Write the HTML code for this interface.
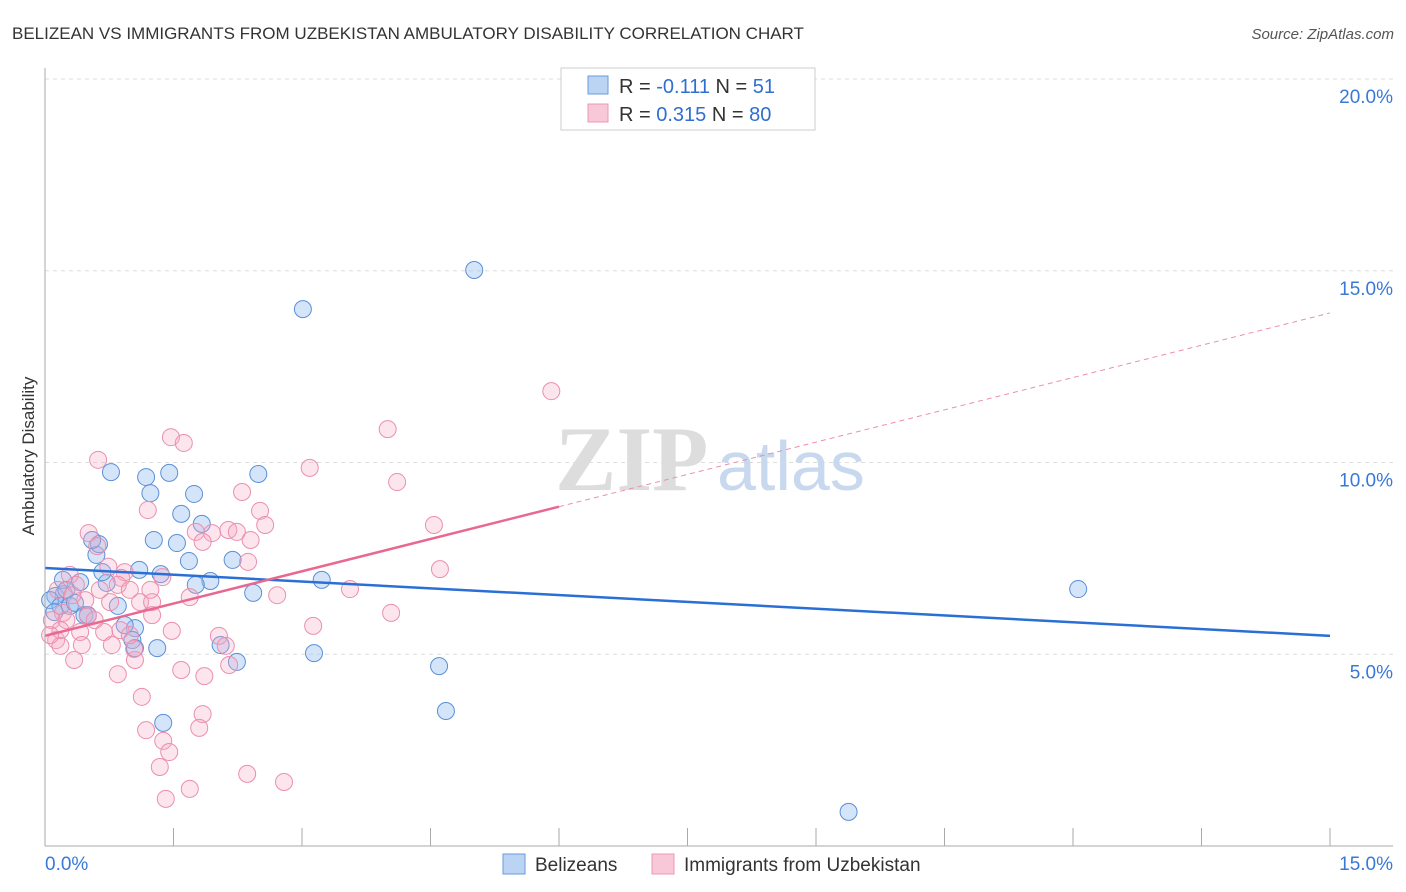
<!DOCTYPE html>
<html><head><meta charset="utf-8"><style>
body{margin:0;background:#fff;font-family:"Liberation Sans",sans-serif;}
svg{display:block}
</style></head><body>
<svg id="chart" width="1406" height="892">
<text x="12" y="39" font-size="17" fill="#333">BELIZEAN VS IMMIGRANTS FROM UZBEKISTAN AMBULATORY DISABILITY CORRELATION CHART</text>
<text x="1394" y="39" font-size="15" fill="#555" font-style="italic" text-anchor="end">Source: ZipAtlas.com</text>
<text x="0" y="0" transform="translate(34,456) rotate(-90)" font-size="17" fill="#333" text-anchor="middle">Ambulatory Disability</text>
<g id="grid"></g>
<g><text x="555" y="490" font-size="92" font-family="Liberation Serif,serif" fill="#ddd" font-weight="bold">ZIP</text><text x="717" y="490" font-size="70" fill="#c8d8ee">atlas</text></g>
<g id="pts"></g>
<g id="lines"></g>
<g id="axes"></g>
<g>
<rect x="561" y="68" width="254" height="62" fill="#fff" stroke="#ccc"/>
<rect x="588" y="76" width="20" height="18" fill="#bcd4f4" stroke="#6a9ae0"/>
<rect x="588" y="104" width="20" height="18" fill="#f9c8d8" stroke="#ec98b4"/>
<text x="619" y="93" font-size="20" fill="#333">R = <tspan fill="#2f6fd0">-0.111</tspan>   N = <tspan fill="#2f6fd0"> 51</tspan></text>
<text x="619" y="121" font-size="20" fill="#333">R = <tspan fill="#2f6fd0">0.315</tspan>   N = <tspan fill="#2f6fd0">80</tspan></text>
</g>
<g>
<rect x="503" y="854" width="22" height="20" fill="#bcd4f4" stroke="#6a9ae0"/>
<text x="535" y="871" font-size="19" fill="#333">Belizeans</text>
<rect x="652" y="854" width="22" height="20" fill="#f9c8d8" stroke="#ec98b4"/>
<text x="684" y="871" font-size="19" fill="#333">Immigrants from Uzbekistan</text>
</g>
</svg>
<script>
const yTicks=[5,10,15,20];
const yTickLabels=["5.0%","10.0%","15.0%","20.0%"];
const xTickLabels=["0.0%","15.0%"];
const blueX=[5.01,3.01,12.06,9.38,4.60,4.68,3.14,2.24,2.05,1.38,0.77,1.18,1.45,1.23,1.74,1.59,2.49,1.83,1.27,1.54,2.19,1.68,0.60,0.63,0.55,1.10,1.35,1.93,1.76,3.23,2.43,1.05,1.02,1.05,1.31,0.93,0.85,0.72,0.67,0.41,0.22,0.12,0.06,0.18,0.29,0.35,0.46,0.11,0.50,0.21,0.25];
const blueY=[15.02,14.00,6.70,0.89,4.69,3.52,5.03,4.80,5.24,3.21,9.75,9.62,9.73,9.20,9.18,8.66,9.70,8.40,7.98,7.90,7.46,7.43,7.59,7.87,7.98,7.20,7.09,6.91,6.81,6.94,6.60,5.68,5.37,5.16,5.16,5.76,6.26,6.86,7.14,6.88,6.57,6.52,6.41,6.26,6.26,6.34,6.02,6.10,6.02,6.94,6.68];
const pinkX=[5.91,1.47,1.62,0.62,3.09,4.00,4.11,2.30,1.20,2.51,4.54,2.57,2.14,2.24,1.95,1.76,2.40,0.51,0.61,1.84,2.37,0.74,0.93,0.89,1.37,4.61,3.56,1.69,2.71,1.11,1.25,1.25,0.76,0.50,0.21,0.08,0.88,1.48,4.04,3.13,2.03,2.11,0.69,0.41,0.13,0.18,0.34,1.05,1.04,2.15,1.86,1.59,0.85,1.13,1.18,1.84,1.80,1.38,1.45,1.34,1.41,2.36,2.79,1.69,0.29,0.15,0.36,0.47,0.64,0.85,0.99,0.25,0.58,0.99,0.18,0.06,0.32,0.78,0.43,1.23];
const pinkY=[11.86,10.66,10.51,10.07,9.86,10.87,9.49,9.23,8.76,8.74,8.37,8.37,8.24,8.19,8.16,8.19,7.98,8.16,7.82,7.93,7.41,7.28,7.14,6.99,7.01,7.22,6.70,6.49,6.54,6.36,6.36,6.02,6.36,6.00,6.08,5.89,5.63,5.61,6.08,5.74,5.48,5.22,5.58,5.58,5.37,5.22,4.85,4.85,5.14,4.72,4.43,4.59,4.48,3.89,3.02,3.44,3.08,2.74,2.45,2.06,1.23,1.88,1.67,1.49,7.07,6.68,6.81,6.41,6.68,6.81,6.68,5.89,5.89,5.50,5.63,5.50,6.54,5.24,5.24,6.68];
const blueTrend=[7.25,5.48];
const pinkTrend=[5.48,13.9];
const pinkSolidEnd=6.0;
const NS="http://www.w3.org/2000/svg";
const sx=v=>45+v*85.67, sy=v=>846-v*38.35;
function mk(tag,attrs,parent){const e=document.createElementNS(NS,tag);for(const k in attrs)e.setAttribute(k,attrs[k]);parent.appendChild(e);return e;}
const grid=document.getElementById('grid'),axes=document.getElementById('axes'),pts=document.getElementById('pts'),lines=document.getElementById('lines');
yTicks.forEach((t,i)=>{
 const l=mk('line',{x1:45,x2:1393,y1:sy(t),y2:sy(t),stroke:'#ddd','stroke-dasharray':'4,4'},grid);
 
 
 const tx=mk('text',{x:1393,y:sy(t)+24,'font-size':19,fill:'#3a78d8','text-anchor':'end'},axes);
 tx.textContent=yTickLabels[i];
 
 
});
mk('line',{x1:45,x2:45,y1:68,y2:846,stroke:'#aaa'},axes);
mk('line',{x1:45,x2:1393,y1:846,y2:846,stroke:'#aaa'},axes);
for(let k=1;k<=10;k++){const t=mk('line',{x1:45+k*128.5,x2:45+k*128.5,y1:828,y2:846,stroke:'#aaa'},axes);
 
 }
[[45,'start'],[1393,'end']].forEach((p,i)=>{const t=mk('text',{x:p[0],y:870,'font-size':19,fill:'#3a78d8','text-anchor':p[1]},axes);t.textContent=xTickLabels[i];
 
 });
blueX.forEach((x,i)=>{const c=mk('circle',{cx:sx(x),cy:sy(blueY[i]),r:8.5,fill:'rgba(150,190,240,0.4)',stroke:'#5b8fd8','stroke-width':1},pts);
 
 });
pinkX.forEach((x,i)=>{const c=mk('circle',{cx:sx(x),cy:sy(pinkY[i]),r:8.5,fill:'rgba(245,170,195,0.3)',stroke:'#eb8fae','stroke-width':1},pts);
 
 });
const bl=mk('line',{x1:sx(0),y1:sy(blueTrend[0]),x2:sx(15),y2:sy(blueTrend[1]),stroke:'#2a6fd6','stroke-width':2.5},lines);


const pAt=x=>pinkTrend[0]+(pinkTrend[1]-pinkTrend[0])*x/15;
const pl=mk('line',{x1:sx(0),y1:sy(pAt(0)),x2:sx(pinkSolidEnd),y2:sy(pAt(pinkSolidEnd)),stroke:'#e8688f','stroke-width':2.5},lines);


const pd=mk('line',{x1:sx(pinkSolidEnd),y1:sy(pAt(pinkSolidEnd)),x2:sx(15),y2:sy(pAt(15)),stroke:'#eb8fae','stroke-width':1,'stroke-dasharray':'5,4'},lines);


</script>
</body></html>
